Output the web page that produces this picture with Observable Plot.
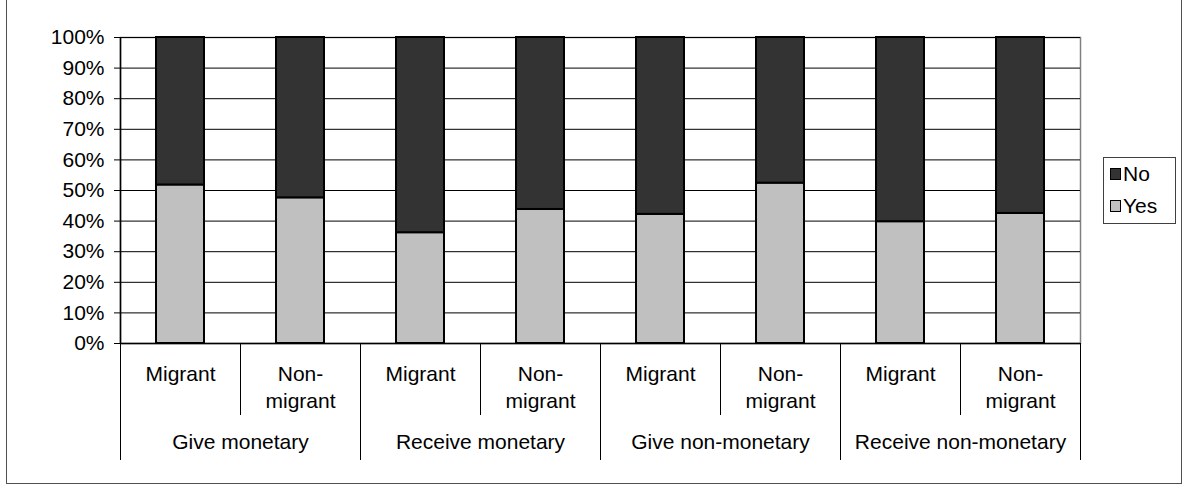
<!DOCTYPE html>
<html><head><meta charset="utf-8">
<script src="https://cdn.jsdelivr.net/npm/d3@7"></script>
<script src="https://cdn.jsdelivr.net/npm/@observablehq/plot@0.6"></script>
<style>
body{margin:0;background:#fff;font-family:Arial,"Liberation Sans",sans-serif;overflow:hidden;}
#wrap{position:relative;width:1184px;height:486px;overflow:hidden;}
#frame{position:absolute;left:6px;top:-3px;width:1174px;height:485px;border:1.5px solid #505050;pointer-events:none;}
#legend{position:absolute;left:1103px;top:157px;width:73px;height:67px;border:1px solid #404040;box-sizing:border-box;font-size:21px;padding-left:6px;}
.item{display:flex;align-items:center;height:32px;}
.sw{width:9px;height:10px;border:1px solid #000;margin-right:2px;}
</style>
</head><body>
<div id="wrap"><div id="chart"></div><div id="frame"></div><div id="legend"></div></div>
<script>
const groups = ["Give monetary", "Receive monetary", "Give non-monetary", "Receive non-monetary"];
const types = ["Migrant", "Non-migrant"];
const typeLabels = ["Migrant", "Non-\nmigrant"];
const yesValues = [51.8, 47.6, 36.2, 43.8, 42.2, 52.4, 39.8, 42.5];
const responses = ["Yes", "No"];
const colors = ["#C0C0C0", "#333333"];
const yTicks = [0, 10, 20, 30, 40, 50, 60, 70, 80, 90, 100];

const rows = [];
yesValues.forEach((v, i) => {
  const g = groups[Math.floor(i / types.length)];
  const t = i % types.length;
  rows.push({i, group: g, type: types[t], label: typeLabels[t], response: "Yes", y1: 0, y2: v});
  rows.push({i, group: g, type: types[t], label: typeLabels[t], response: "No", y1: v, y2: 100});
});
const cats = yesValues.map((v, i) => ({i, label: typeLabels[i % types.length]}));
const n = yesValues.length;
const groupBounds = d3.range(0, n + 1, types.length);
const innerBounds = d3.range(1, n, types.length);
const groupRows = groups.map((g, k) => ({g, c: k * types.length + types.length / 2}));

const chart = Plot.plot({
  width: 1184, height: 486,
  marginLeft: 120, marginRight: 104, marginTop: 37, marginBottom: 143,
  style: {fontSize: "21px", fontFamily: "Arial, 'Liberation Sans', sans-serif", color: "#000", background: "transparent"},
  x: {type: "linear", domain: [0, n], axis: null},
  y: {domain: [0, 100], axis: null},
  color: {domain: responses, range: colors},
  marks: [
    Plot.frame({stroke: "#808080", strokeWidth: 1.5}),
    Plot.ruleY(yTicks, {stroke: "#000", strokeWidth: 1}),
    Plot.rect(rows, {x1: "i", x2: d => d.i + 1, y1: "y1", y2: "y2", fill: "response", stroke: "#000", strokeWidth: 2, insetLeft: 36, insetRight: 36}),
    Plot.axisY({ticks: yTicks, tickFormat: d => d + "%", tickSize: 6, tickPadding: 10, label: null, stroke: "#000", fill: "#000"}),
    Plot.ruleX([0], {stroke: "#000", strokeWidth: 1.5}),
    Plot.ruleY([0], {stroke: "#000", strokeWidth: 1.5}),
    Plot.ruleX(innerBounds, {x: d => d, y1: 0, y2: 0, insetBottom: -72, stroke: "#000", strokeWidth: 1}),
    Plot.ruleX(groupBounds, {x: d => d, y1: 0, y2: 0, insetBottom: -117, stroke: "#000", strokeWidth: 1}),
    Plot.text(cats, {x: d => d.i + 0.5, y: 0, text: "label", lineAnchor: "top", dy: 18, lineHeight: 1.3, fill: "#000"}),
    Plot.text(groupRows, {x: "c", y: 0, text: "g", lineAnchor: "top", dy: 91, fill: "#000"})
  ]
});
document.getElementById("chart").appendChild(chart);

const legend = document.getElementById("legend");
responses.slice().reverse().forEach(r => {
  const it = document.createElement("div");
  it.className = "item";
  const sw = document.createElement("span");
  sw.className = "sw";
  sw.style.background = colors[responses.indexOf(r)];
  it.appendChild(sw);
  const tx = document.createElement("span");
  tx.textContent = r;
  it.appendChild(tx);
  legend.appendChild(it);
});
</script>
</body></html>
